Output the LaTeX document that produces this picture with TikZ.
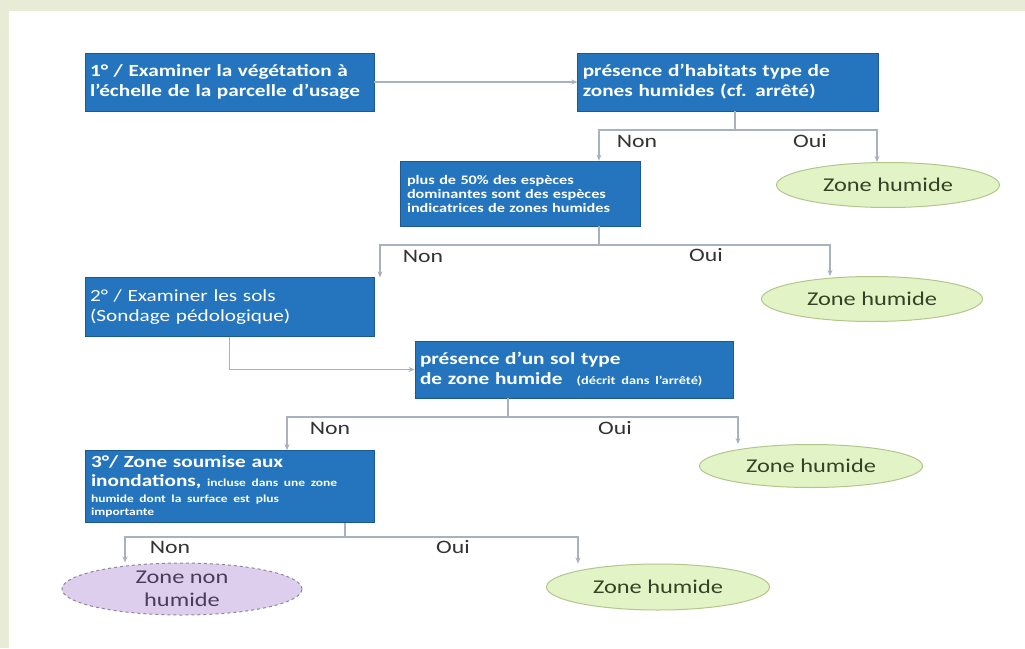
\documentclass[tikz,border=0pt]{standalone}
\usepackage{fontspec}
\setmainfont[FakeStretch=1.25]{Carlito}
\usetikzlibrary{arrows.meta}
\usetikzlibrary{positioning}
\usetikzlibrary{shapes.geometric}

\definecolor{boxblue}{RGB}{36,117,189}
\definecolor{boxline}{RGB}{28,88,145}
\definecolor{zonefill}{RGB}{226,244,198}
\definecolor{zoneline}{RGB}{178,198,140}
\definecolor{zonetext}{RGB}{52,66,38}
\definecolor{nonfill}{RGB}{221,206,238}
\definecolor{nonline}{RGB}{140,136,152}
\definecolor{nontext}{RGB}{75,60,90}
\definecolor{linkgray}{RGB}{168,178,190}
\definecolor{pagegreen}{RGB}{232,236,215}

\tikzset{
  stepbox/.style={rectangle, draw=boxline, line width=0.8pt, fill=boxblue, text=white,
    font=\bfseries\fontsize{17}{20}\selectfont, align=left, inner xsep=5pt, inner ysep=2pt},
  zone/.style={ellipse, draw=zoneline, line width=1pt, fill=zonefill, text=zonetext,
    font=\fontsize{19.5}{23}\selectfont, align=center, inner sep=0pt},
  nonzone/.style={zone, dashed, draw=nonline, fill=nonfill, text=nontext},
  link/.style={draw=linkgray, line width=1.2pt},
  arrow/.style={link, -{Stealth[length=6pt,width=5pt]}},
  answer/.style={font=\fontsize{19}{20}\selectfont, text=black!80, inner sep=0pt}
}

\begin{document}
\begin{tikzpicture}[x=1pt,y=-1pt]
  \useasboundingbox (0,0) rectangle (1025,648);
  \fill[pagegreen] (0,0) rectangle (1025,648);
  \fill[white] (9,11) rectangle (1025,648);

  % the three steps
  \node[stepbox, text width=279pt, minimum height=58pt] (step_1) at (229.5,82)
    {1° / Examiner la végétation à\\l'échelle de la parcelle d'usage};
  \node[stepbox, text width=279pt, minimum height=59pt,
    font=\fontsize{17}{20}\selectfont] (step_2) [below=166pt of step_1]
    {2° / Examiner les sols\\(Sondage pédologique)};
  \node[stepbox, text width=277pt, inner xsep=6pt, minimum height=72pt] (step_3) [below=113pt of step_2]
    {3°/ Zone soumise aux\\[6pt]inondations, {\fontsize{10.8}{13}\selectfont incluse dans une zone\\[3pt]
     humide dont la surface est plus\\importante\par}};

  % questions
  \node[stepbox, text width=291pt, minimum height=58pt] (hab) [right=203pt of step_1]
    {présence d'habitats type de\\zones humides (cf. arrêté)};
  \node[stepbox, text width=226pt, inner xsep=7pt, minimum height=65pt,
    font=\bfseries\fontsize{13}{14}\selectfont] (plus) at (520,193.5)
    {plus de 50\% des espèces\\dominantes sont des espèces\\indicatrices de zones humides};
  \node[stepbox, text width=308pt, minimum height=57pt] (sol) at (574,369.5)
    {présence d'un sol type\\de zone humide \ \,{\fontsize{11.5}{12}\selectfont (décrit dans l'arrêté)}};

  % answers
  \node[zone, minimum width=223pt, minimum height=45pt] (zh_1) at (888,185) {Zone humide};
  \node[zone, minimum width=221pt, minimum height=45pt] (zh_2) at (872,299) {Zone humide};
  \node[zone, minimum width=223pt, minimum height=43pt] (zh_3) at (811,466) {Zone humide};
  \node[zone, minimum width=223pt, minimum height=46pt] (zh_4) at (658,587) {Zone humide};
  \node[nonzone, minimum width=240pt, minimum height=52pt] (znh) at (182,589) {Zone non\\humide};

  \coordinate (fork_1) at (735,130);
  \coordinate (non_1) at (599,130);
  \coordinate (oui_1) at (877,130);
  \coordinate (fork_2) at (599,245);
  \coordinate (non_2) at (380,245);
  \coordinate (oui_2) at (830,245);
  \coordinate (fork_3) at (508,417);
  \coordinate (non_3) at (287,417);
  \coordinate (oui_3) at (738,417);
  \coordinate (fork_4) at (345,537);
  \coordinate (non_4) at (125,537);
  \coordinate (oui_4) at (578,537);

  \draw[arrow] (step_1) -- (hab);
  \draw[link] (hab.south -| fork_1) -- (fork_1);
  \draw[arrow] (fork_1) -- (non_1) -- (non_1 |- plus.north);
  \draw[arrow] (fork_1) -- (oui_1) -- (oui_1 |- zh_1.north);

  \draw[link] (plus.south -| fork_2) -- (fork_2);
  \draw[arrow] (fork_2) -- (non_2) -- (non_2 |- step_2.north);
  \draw[arrow] (fork_2) -- (oui_2) -- (oui_2 |- zh_2.north);

  \draw[arrow] (step_2.south) |- (sol.west);

  \draw[link] (sol.south -| fork_3) -- (fork_3);
  \draw[arrow] (fork_3) -- (non_3) -- (non_3 |- step_3.north);
  \draw[arrow] (fork_3) -- (oui_3) -- (oui_3 |- zh_3.north);

  \draw[link] (step_3.south -| fork_4) -- (fork_4);
  \draw[arrow] (fork_4) -- (non_4) -- (non_4 |- znh.north);
  \draw[arrow] (fork_4) -- (oui_4) -- (oui_4 |- zh_4.north);

  \node[answer] at (637,141) {Non};
  \node[answer] at (810,141) {Oui};
  \node[answer] at (423,256) {Non};
  \node[answer] at (706,255) {Oui};
  \node[answer] at (330,428) {Non};
  \node[answer] at (615,428) {Oui};
  \node[answer] at (170,547) {Non};
  \node[answer] at (453,547) {Oui};
\end{tikzpicture}
\end{document}
